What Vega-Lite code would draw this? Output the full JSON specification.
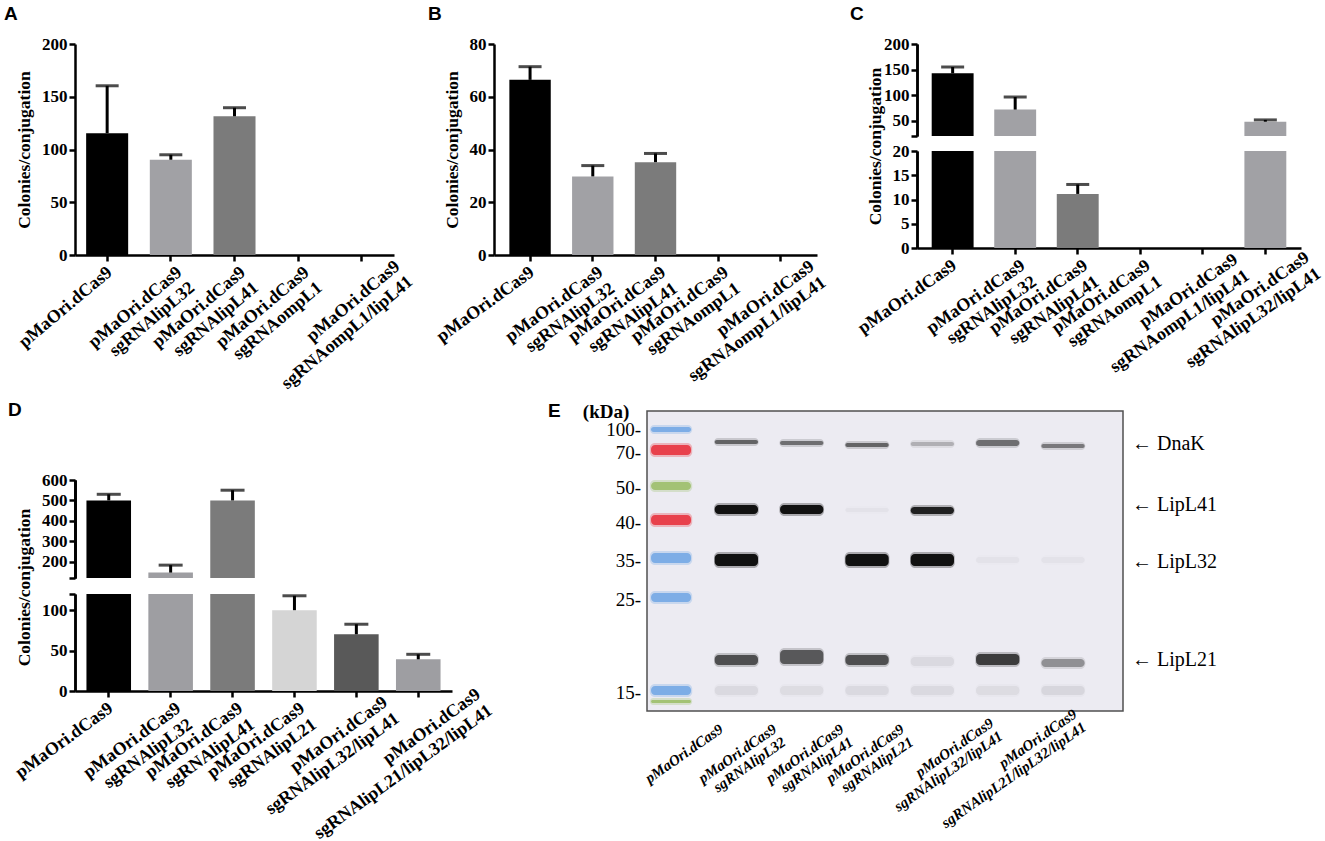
{
  "$schema": "https://vega.github.io/schema/vega-lite/v6.json",
  "padding": {"left": 4, "top": 5, "right": 5, "bottom": 5},
  "background": "white",
  "align": "none",
  "spacing": 8,
  "resolve": {"scale": {"color": "independent", "opacity": "independent"}},
  "config": {
    "font": "Liberation Serif",
    "view": {"stroke": null},
    "axis": {
      "grid": false,
      "domainColor": "black",
      "domainWidth": 2.5,
      "tickColor": "black",
      "tickWidth": 2.5,
      "tickSize": 6,
      "labelFont": "Liberation Serif",
      "labelFontWeight": "bold",
      "labelColor": "black",
      "labelFontSize": 17,
      "labelPadding": 2,
      "labelOverlap": false,
      "labelBound": false,
      "labelLimit": 0,
      "titleFont": "Liberation Serif",
      "titleFontWeight": "bold",
      "titleFontSize": 17.5,
      "titleColor": "black",
      "titlePadding": 8
    },
    "axisX": {
      "labelFontSize": 18,
      "labelAlign": "right",
      "labelBaseline": "top",
      "labelLineHeight": 20,
      "title": null
    },
    "title": {
      "font": "Liberation Sans",
      "fontSize": 19,
      "fontWeight": "bold",
      "color": "black",
      "anchor": "start",
      "frame": "group",
      "baseline": "alphabetic",
      "offset": 11
    }
  },
  "datasets": {
    "panelA": [
      {"sample": "pMaOri.dCas9", "mean": 115.5, "upper": 160.4},
      {"sample": "pMaOri.dCas9 sgRNAlipL32", "mean": 90.3, "upper": 95},
      {"sample": "pMaOri.dCas9 sgRNAlipL41", "mean": 131.5, "upper": 139.6},
      {"sample": "pMaOri.dCas9 sgRNAompL1", "mean": 0, "upper": null},
      {"sample": "pMaOri.dCas9 sgRNAompL1/lipL41", "mean": 0, "upper": null}
    ],
    "panelB": [
      {"sample": "pMaOri.dCas9", "mean": 66.4, "upper": 71.4},
      {"sample": "pMaOri.dCas9 sgRNAlipL32", "mean": 29.8, "upper": 33.9},
      {"sample": "pMaOri.dCas9 sgRNAlipL41", "mean": 35.2, "upper": 38.5},
      {"sample": "pMaOri.dCas9 sgRNAompL1", "mean": 0, "upper": null},
      {"sample": "pMaOri.dCas9 sgRNAompL1/lipL41", "mean": 0, "upper": null}
    ],
    "panelC": [
      {"sample": "pMaOri.dCas9", "mean": 142.6, "upper": 155},
      {"sample": "pMaOri.dCas9 sgRNAlipL32", "mean": 71.7, "upper": 96.3},
      {"sample": "pMaOri.dCas9 sgRNAlipL41", "mean": 11.15, "upper": 13.1},
      {"sample": "pMaOri.dCas9 sgRNAompL1", "mean": 0, "upper": null},
      {"sample": "pMaOri.dCas9 sgRNAompL1/lipL41", "mean": 0, "upper": null},
      {"sample": "pMaOri.dCas9 sgRNAlipL32/lipL41", "mean": 48, "upper": 51.5}
    ],
    "panelD": [
      {"sample": "pMaOri.dCas9", "mean": 500, "upper": 530},
      {"sample": "pMaOri.dCas9 sgRNAlipL32", "mean": 146.5, "upper": 183},
      {"sample": "pMaOri.dCas9 sgRNAlipL41", "mean": 500, "upper": 550},
      {"sample": "pMaOri.dCas9 sgRNAlipL21", "mean": 100, "upper": 117.8},
      {"sample": "pMaOri.dCas9 sgRNAlipL32/lipL41", "mean": 70.2, "upper": 82.6},
      {"sample": "pMaOri.dCas9 sgRNAlipL21/lipL32/lipL41", "mean": 39.2, "upper": 45.4}
    ],
    "blotBands": [
      {"lane": "pMaOri.dCas9", "protein": "DnaK", "from": 29, "to": 33, "intensity": 0.55},
      {"lane": "pMaOri.dCas9 sgRNAlipL32", "protein": "DnaK", "from": 30, "to": 34, "intensity": 0.5},
      {"lane": "pMaOri.dCas9 sgRNAlipL41", "protein": "DnaK", "from": 32, "to": 36, "intensity": 0.55},
      {"lane": "pMaOri.dCas9 sgRNAlipL21", "protein": "DnaK", "from": 31, "to": 35, "intensity": 0.22},
      {"lane": "pMaOri.dCas9 sgRNAlipL32/lipL41", "protein": "DnaK", "from": 29, "to": 35, "intensity": 0.5},
      {"lane": "pMaOri.dCas9 sgRNAlipL21/lipL32/lipL41", "protein": "DnaK", "from": 33, "to": 37, "intensity": 0.45},
      {"lane": "pMaOri.dCas9", "protein": "LipL41", "from": 94, "to": 103, "intensity": 1},
      {"lane": "pMaOri.dCas9 sgRNAlipL32", "protein": "LipL41", "from": 94, "to": 103, "intensity": 1},
      {"lane": "pMaOri.dCas9 sgRNAlipL41", "protein": "LipL41", "from": 97, "to": 101, "intensity": 0.03},
      {"lane": "pMaOri.dCas9 sgRNAlipL21", "protein": "LipL41", "from": 96, "to": 103, "intensity": 0.9},
      {"lane": "pMaOri.dCas9", "protein": "LipL32", "from": 143, "to": 155, "intensity": 1},
      {"lane": "pMaOri.dCas9 sgRNAlipL41", "protein": "LipL32", "from": 143, "to": 155, "intensity": 1},
      {"lane": "pMaOri.dCas9 sgRNAlipL21", "protein": "LipL32", "from": 143, "to": 155, "intensity": 1},
      {"lane": "pMaOri.dCas9 sgRNAlipL32/lipL41", "protein": "LipL32", "from": 146, "to": 152, "intensity": 0.03},
      {"lane": "pMaOri.dCas9 sgRNAlipL21/lipL32/lipL41", "protein": "LipL32", "from": 146, "to": 152, "intensity": 0.03},
      {"lane": "pMaOri.dCas9", "protein": "LipL21", "from": 244, "to": 254, "intensity": 0.65},
      {"lane": "pMaOri.dCas9 sgRNAlipL32", "protein": "LipL21", "from": 239, "to": 253, "intensity": 0.6},
      {"lane": "pMaOri.dCas9 sgRNAlipL41", "protein": "LipL21", "from": 244, "to": 254, "intensity": 0.65},
      {"lane": "pMaOri.dCas9 sgRNAlipL21", "protein": "LipL21", "from": 246, "to": 255, "intensity": 0.06},
      {"lane": "pMaOri.dCas9 sgRNAlipL32/lipL41", "protein": "LipL21", "from": 243, "to": 254, "intensity": 0.75},
      {"lane": "pMaOri.dCas9 sgRNAlipL21/lipL32/lipL41", "protein": "LipL21", "from": 248, "to": 256, "intensity": 0.35},
      {"lane": "pMaOri.dCas9", "protein": "smear", "from": 275, "to": 284, "intensity": 0.06},
      {"lane": "pMaOri.dCas9 sgRNAlipL32", "protein": "smear", "from": 275, "to": 284, "intensity": 0.05},
      {"lane": "pMaOri.dCas9 sgRNAlipL41", "protein": "smear", "from": 275, "to": 284, "intensity": 0.06},
      {"lane": "pMaOri.dCas9 sgRNAlipL21", "protein": "smear", "from": 275, "to": 284, "intensity": 0.06},
      {"lane": "pMaOri.dCas9 sgRNAlipL32/lipL41", "protein": "smear", "from": 275, "to": 284, "intensity": 0.05},
      {"lane": "pMaOri.dCas9 sgRNAlipL21/lipL32/lipL41", "protein": "smear", "from": 275, "to": 284, "intensity": 0.07}
    ],
    "ladder": [
      {"lane": "Marker", "kda": 100, "from": 16, "to": 21, "dye": "blue"},
      {"lane": "Marker", "kda": 70, "from": 34, "to": 44, "dye": "red"},
      {"lane": "Marker", "kda": 50, "from": 71, "to": 79, "dye": "green"},
      {"lane": "Marker", "kda": 40, "from": 104, "to": 114, "dye": "red"},
      {"lane": "Marker", "kda": 35, "from": 142, "to": 152, "dye": "blue"},
      {"lane": "Marker", "kda": 25, "from": 182, "to": 191, "dye": "blue"},
      {"lane": "Marker", "kda": 15, "from": 275, "to": 284, "dye": "blue"},
      {"lane": "Marker", "kda": null, "from": 289, "to": 292, "dye": "green"}
    ],
    "targets": [
      {"protein": "DnaK", "mig": 33},
      {"protein": "LipL41", "mig": 94},
      {"protein": "LipL32", "mig": 151},
      {"protein": "LipL21", "mig": 249}
    ]
  },
  "vconcat": [
    {
      "bounds": "flush",
      "align": "none",
      "spacing": 100,
      "resolve": {"scale": {"color": "independent"}},
      "hconcat": [
        {
          "width": 319,
          "height": 211,
          "title": {"text": "A", "dx": -71},
          "data": {"name": "panelA"},
          "encoding": {
            "x": {
              "field": "sample", "type": "nominal", "sort": null,
              "scale": {"paddingInner": 0.34, "paddingOuter": 0.175},
              "axis": {
                "labelAngle": -40,
                "labelOffset": {"condition": [
                  {"test": "indexof(datum.value, ' ') < 0", "value": -3},
                  {"test": "datum.value == 'pMaOri.dCas9 sgRNAompL1/lipL41'", "value": 30}
                ], "value": 3},
                "labelPadding": {"condition": {"test": "datum.value == 'pMaOri.dCas9 sgRNAompL1/lipL41'", "value": -4}, "value": 2},
                "labelExpr": "indexof(datum.label, ' ') < 0 ? datum.label : [pad(split(datum.label, ' ')[0], length(split(datum.label, ' ')[1]), '\u00a0'), pad(split(datum.label, ' ')[1], length(split(datum.label, ' ')[0]), '\u00a0')]"
              }
            }
          },
          "layer": [
            {
              "mark": {"type": "bar"},
              "encoding": {
                "y": {"field": "mean", "type": "quantitative", "scale": {"domain": [0, 200]},
                      "axis": {"values": [0, 50, 100, 150, 200], "title": "Colonies/conjugation"}},
                "color": {"field": "sample", "type": "nominal", "legend": null,
                          "scale": {"domain": ["pMaOri.dCas9", "pMaOri.dCas9 sgRNAlipL32", "pMaOri.dCas9 sgRNAlipL41", "pMaOri.dCas9 sgRNAompL1", "pMaOri.dCas9 sgRNAompL1/lipL41"],
                                    "range": ["#000000", "#a1a1a5", "#7b7b7b", "#000000", "#000000"]}}
              }
            },
            {
              "transform": [{"filter": "datum.upper != null"}],
              "mark": {"type": "rule", "color": "black", "strokeWidth": 3},
              "encoding": {"y": {"field": "mean", "type": "quantitative"}, "y2": {"field": "upper"}}
            },
            {
              "transform": [{"filter": "datum.upper != null"}],
              "mark": {"type": "tick", "color": "black", "thickness": 3, "size": 23},
              "encoding": {"y": {"field": "upper", "type": "quantitative"}}
            }
          ]
        },
        {
          "width": 323,
          "height": 211,
          "title": {"text": "B", "dx": -66},
          "data": {"name": "panelB"},
          "encoding": {
            "x": {
              "field": "sample", "type": "nominal", "sort": null,
              "scale": {"paddingInner": 0.34, "paddingOuter": 0.245},
              "axis": {
                "labelAngle": -36,
                "labelOffset": {"condition": [
                  {"test": "indexof(datum.value, ' ') < 0", "value": -3},
                  {"test": "datum.value == 'pMaOri.dCas9 sgRNAompL1/lipL41'", "value": 26}
                ], "value": 3},
                "labelPadding": {"condition": {"test": "datum.value == 'pMaOri.dCas9 sgRNAompL1/lipL41'", "value": -4}, "value": 2},
                "labelExpr": "indexof(datum.label, ' ') < 0 ? datum.label : [pad(split(datum.label, ' ')[0], length(split(datum.label, ' ')[1]), '\u00a0'), pad(split(datum.label, ' ')[1], length(split(datum.label, ' ')[0]), '\u00a0')]"
              }
            }
          },
          "layer": [
            {
              "mark": {"type": "bar"},
              "encoding": {
                "y": {"field": "mean", "type": "quantitative", "scale": {"domain": [0, 80]},
                      "axis": {"values": [0, 20, 40, 60, 80], "title": "Colonies/conjugation"}},
                "color": {"field": "sample", "type": "nominal", "legend": null,
                          "scale": {"domain": ["pMaOri.dCas9", "pMaOri.dCas9 sgRNAlipL32", "pMaOri.dCas9 sgRNAlipL41", "pMaOri.dCas9 sgRNAompL1", "pMaOri.dCas9 sgRNAompL1/lipL41"],
                                    "range": ["#000000", "#a1a1a5", "#7b7b7b", "#000000", "#000000"]}}
              }
            },
            {
              "transform": [{"filter": "datum.upper != null"}],
              "mark": {"type": "rule", "color": "black", "strokeWidth": 3},
              "encoding": {"y": {"field": "mean", "type": "quantitative"}, "y2": {"field": "upper"}}
            },
            {
              "transform": [{"filter": "datum.upper != null"}],
              "mark": {"type": "tick", "color": "black", "thickness": 3, "size": 23},
              "encoding": {"y": {"field": "upper", "type": "quantitative"}}
            }
          ]
        },
        {
          "bounds": "flush",
          "align": "none",
          "spacing": 15,
          "vconcat": [
            {
              "width": 384,
              "height": 92,
              "title": {"text": "C", "dx": -67},
              "data": {"name": "panelC"},
              "encoding": {
                "x": {"field": "sample", "type": "nominal", "sort": null,
                      "scale": {"paddingInner": 0.33, "paddingOuter": 0.235}, "axis": null}
              },
              "resolve": {"axis": {"y": "independent"}},
              "layer": [
                {
                  "mark": {"type": "bar", "clip": true},
                  "encoding": {
                    "y": {"field": "mean", "type": "quantitative",
                          "scale": {"domain": [20, 200], "zero": false, "nice": false},
                          "axis": {"orient": "left", "values": [20, 100, 200], "title": null,
                                   "labelExpr": "datum.value == 20 ? '' : datum.label"}},
                    "color": {"field": "sample", "type": "nominal", "legend": null,
                              "scale": {"domain": ["pMaOri.dCas9", "pMaOri.dCas9 sgRNAlipL32", "pMaOri.dCas9 sgRNAlipL41", "pMaOri.dCas9 sgRNAompL1", "pMaOri.dCas9 sgRNAompL1/lipL41", "pMaOri.dCas9 sgRNAlipL32/lipL41"],
                                        "range": ["#000000", "#a1a1a5", "#7b7b7b", "#000000", "#000000", "#a1a1a5"]}}
                  }
                },
                {
                  "transform": [{"filter": "datum.upper != null && datum.upper > 20"}],
                  "mark": {"type": "rule", "color": "black", "strokeWidth": 3},
                  "encoding": {"y": {"field": "mean", "type": "quantitative", "axis": null}, "y2": {"field": "upper"}}
                },
                {
                  "transform": [{"filter": "datum.upper != null && datum.upper > 20"}],
                  "mark": {"type": "tick", "color": "black", "thickness": 3, "size": 23},
                  "encoding": {"y": {"field": "upper", "type": "quantitative",
                                     "axis": {"orient": "left", "values": [50, 150], "title": null}}}
                }
              ]
            },
            {
              "width": 384,
              "height": 97,
              "data": {"name": "panelC"},
              "encoding": {
                "x": {"field": "sample", "type": "nominal", "sort": null,
                      "scale": {"paddingInner": 0.33, "paddingOuter": 0.235},
                      "axis": {
                        "labelAngle": -35,
                        "labelOffset": {"condition": [
                          {"test": "indexof(datum.value, ' ') < 0", "value": -3},
                          {"test": "datum.value == 'pMaOri.dCas9 sgRNAompL1/lipL41'", "value": 28},
                          {"test": "datum.value == 'pMaOri.dCas9 sgRNAlipL32/lipL41'", "value": 37}
                        ], "value": 3},
                        "labelPadding": {"condition": [
                          {"test": "datum.value == 'pMaOri.dCas9 sgRNAompL1/lipL41'", "value": -4},
                          {"test": "datum.value == 'pMaOri.dCas9 sgRNAlipL32/lipL41'", "value": -6}
                        ], "value": 2},
                        "labelExpr": "indexof(datum.label, ' ') < 0 ? datum.label : [pad(split(datum.label, ' ')[0], length(split(datum.label, ' ')[1]), '\u00a0'), pad(split(datum.label, ' ')[1], length(split(datum.label, ' ')[0]), '\u00a0')]"
                      }}
              },
              "resolve": {"axis": {"y": "independent"}},
              "layer": [
                {
                  "mark": {"type": "bar", "clip": true},
                  "encoding": {
                    "y": {"field": "mean", "type": "quantitative",
                          "scale": {"domain": [0, 20], "nice": false},
                          "axis": {"orient": "left", "values": [0, 10, 20], "title": "Colonies/conjugation", "titleY": -5}},
                    "color": {"field": "sample", "type": "nominal", "legend": null,
                              "scale": {"domain": ["pMaOri.dCas9", "pMaOri.dCas9 sgRNAlipL32", "pMaOri.dCas9 sgRNAlipL41", "pMaOri.dCas9 sgRNAompL1", "pMaOri.dCas9 sgRNAompL1/lipL41", "pMaOri.dCas9 sgRNAlipL32/lipL41"],
                                        "range": ["#000000", "#a1a1a5", "#7b7b7b", "#000000", "#000000", "#a1a1a5"]}}
                  }
                },
                {
                  "transform": [{"filter": "datum.upper != null && datum.upper <= 20"}],
                  "mark": {"type": "rule", "color": "black", "strokeWidth": 3},
                  "encoding": {"y": {"field": "mean", "type": "quantitative", "axis": null}, "y2": {"field": "upper"}}
                },
                {
                  "transform": [{"filter": "datum.upper != null && datum.upper <= 20"}],
                  "mark": {"type": "tick", "color": "black", "thickness": 3, "size": 23},
                  "encoding": {"y": {"field": "upper", "type": "quantitative",
                                     "axis": {"orient": "left", "values": [5, 15], "title": null}}}
                }
              ]
            }
          ]
        }
      ]
    },
    {
      "bounds": "flush",
      "align": "none",
      "spacing": 572,
      "resolve": {"scale": {"color": "independent", "opacity": "independent"}},
      "hconcat": [
        {
          "bounds": "flush",
          "align": "none",
          "spacing": 16,
          "vconcat": [
            {
              "width": 377,
              "height": 53,
              "title": {"text": "D", "dx": -67, "offset": 0, "dy": 9},
              "data": {"values": []},
              "mark": {"type": "point", "opacity": 0},
              "encoding": {}
            },
            {
              "width": 377,
              "height": 98,
              "data": {"name": "panelD"},
              "encoding": {
                "x": {"field": "sample", "type": "nominal", "sort": null,
                      "scale": {"paddingInner": 0.28, "paddingOuter": 0.185}, "axis": null}
              },
              "resolve": {"axis": {"y": "independent"}},
              "layer": [
                {
                  "mark": {"type": "bar", "clip": true},
                  "encoding": {
                    "y": {"field": "mean", "type": "quantitative",
                          "scale": {"domain": [120, 600], "zero": false, "nice": false},
                          "axis": {"orient": "left", "values": [120, 200, 500], "title": null,
                                   "labelExpr": "datum.value == 120 ? '' : datum.label"}},
                    "color": {"field": "sample", "type": "nominal", "legend": null,
                              "scale": {"domain": ["pMaOri.dCas9", "pMaOri.dCas9 sgRNAlipL32", "pMaOri.dCas9 sgRNAlipL41", "pMaOri.dCas9 sgRNAlipL21", "pMaOri.dCas9 sgRNAlipL32/lipL41", "pMaOri.dCas9 sgRNAlipL21/lipL32/lipL41"],
                                        "range": ["#000000", "#9e9ea2", "#7b7b7b", "#d5d5d5", "#595959", "#9e9ea2"]}}
                  }
                },
                {
                  "transform": [{"filter": "datum.upper != null && datum.upper > 120"}],
                  "mark": {"type": "rule", "color": "black", "strokeWidth": 3},
                  "encoding": {"y": {"field": "mean", "type": "quantitative",
                                     "axis": {"orient": "left", "values": [400], "title": null}}, "y2": {"field": "upper"}}
                },
                {
                  "transform": [{"filter": "datum.upper != null && datum.upper > 120"}],
                  "mark": {"type": "tick", "color": "black", "thickness": 3, "size": 24},
                  "encoding": {"y": {"field": "upper", "type": "quantitative",
                                     "axis": {"orient": "left", "values": [300, 600], "title": null}}}
                }
              ]
            },
            {
              "width": 377,
              "height": 97,
              "data": {"name": "panelD"},
              "encoding": {
                "x": {"field": "sample", "type": "nominal", "sort": null,
                      "scale": {"paddingInner": 0.28, "paddingOuter": 0.185},
                      "axis": {
                        "labelAngle": -36,
                        "labelOffset": {"condition": [
                          {"test": "indexof(datum.value, ' ') < 0", "value": -3},
                          {"test": "datum.value == 'pMaOri.dCas9 sgRNAlipL32/lipL41'", "value": 24},
                          {"test": "datum.value == 'pMaOri.dCas9 sgRNAlipL21/lipL32/lipL41'", "value": 55}
                        ], "value": 3},
                        "labelPadding": {"condition": [
                          {"test": "datum.value == 'pMaOri.dCas9 sgRNAlipL32/lipL41'", "value": -4},
                          {"test": "datum.value == 'pMaOri.dCas9 sgRNAlipL21/lipL32/lipL41'", "value": -12}
                        ], "value": 2},
                        "labelExpr": "indexof(datum.label, ' ') < 0 ? datum.label : [pad(split(datum.label, ' ')[0], length(split(datum.label, ' ')[1]), '\u00a0'), pad(split(datum.label, ' ')[1], length(split(datum.label, ' ')[0]), '\u00a0')]"
                      }}
              },
              "resolve": {"axis": {"y": "independent"}},
              "layer": [
                {
                  "mark": {"type": "bar", "clip": true},
                  "encoding": {
                    "y": {"field": "mean", "type": "quantitative",
                          "scale": {"domain": [0, 120], "nice": false},
                          "axis": {"orient": "left", "values": [0, 100], "title": "Colonies/conjugation", "titleY": -7}},
                    "color": {"field": "sample", "type": "nominal", "legend": null,
                              "scale": {"domain": ["pMaOri.dCas9", "pMaOri.dCas9 sgRNAlipL32", "pMaOri.dCas9 sgRNAlipL41", "pMaOri.dCas9 sgRNAlipL21", "pMaOri.dCas9 sgRNAlipL32/lipL41", "pMaOri.dCas9 sgRNAlipL21/lipL32/lipL41"],
                                        "range": ["#000000", "#9e9ea2", "#7b7b7b", "#d5d5d5", "#595959", "#9e9ea2"]}}
                  }
                },
                {
                  "transform": [{"filter": "datum.upper != null && datum.upper <= 120"}],
                  "mark": {"type": "rule", "color": "black", "strokeWidth": 3},
                  "encoding": {"y": {"field": "mean", "type": "quantitative", "axis": null}, "y2": {"field": "upper"}}
                },
                {
                  "transform": [{"filter": "datum.upper != null && datum.upper <= 120"}],
                  "mark": {"type": "tick", "color": "black", "thickness": 3, "size": 24},
                  "encoding": {"y": {"field": "upper", "type": "quantitative",
                                     "axis": {"orient": "left", "values": [50, 120], "title": null,
                                              "labelExpr": "datum.value == 120 ? '' : datum.label"}}}
                }
              ]
            }
          ]
        },
        {
          "width": 476,
          "height": 300,
          "title": {"text": "E", "dx": -99, "offset": 0, "dy": 18},
          "view": {"fill": "#ecebf2", "stroke": "#505050", "strokeWidth": 1.5},
          "resolve": {"scale": {"opacity": "independent"}},
          "layer": [
            {
              "data": {"name": "blotBands"},
              "mark": {"type": "bar", "width": {"band": 0.95}, "cornerRadius": 5, "color": "#111111", "yOffset": -2, "y2Offset": 2},
              "encoding": {
                "x": {"field": "lane", "type": "nominal", "sort": null,
                      "scale": {"domain": ["Marker", "pMaOri.dCas9", "pMaOri.dCas9 sgRNAlipL32", "pMaOri.dCas9 sgRNAlipL41", "pMaOri.dCas9 sgRNAlipL21", "pMaOri.dCas9 sgRNAlipL32/lipL41", "pMaOri.dCas9 sgRNAlipL21/lipL32/lipL41"],
                                "paddingInner": 0.28, "paddingOuter": 0.283, "align": 0.014},
                      "axis": {"domain": false, "ticks": false, "labelAngle": -35, "labelFontStyle": "italic",
                               "labelFontSize": 15, "labelLineHeight": 16,
                               "labelPadding": {"condition": [
                                 {"test": "datum.value == 'pMaOri.dCas9 sgRNAlipL32/lipL41'", "value": 4},
                                 {"test": "datum.value == 'pMaOri.dCas9 sgRNAlipL21/lipL32/lipL41'", "value": -5}
                               ], "value": 10},
                               "labelOffset": {"condition": [
                                 {"test": "indexof(datum.value, ' ') < 0", "value": -19},
                                 {"test": "datum.value == 'pMaOri.dCas9 sgRNAlipL32'", "value": -31},
                                 {"test": "datum.value == 'pMaOri.dCas9 sgRNAlipL41'", "value": -29},
                                 {"test": "datum.value == 'pMaOri.dCas9 sgRNAlipL21'", "value": -34},
                                 {"test": "datum.value == 'pMaOri.dCas9 sgRNAlipL32/lipL41'", "value": -10},
                                 {"test": "datum.value == 'pMaOri.dCas9 sgRNAlipL21/lipL32/lipL41'", "value": 8}
                               ], "value": -30},
                               "labelExpr": "datum.label == 'Marker' ? '' : indexof(datum.label, ' ') < 0 ? datum.label : [pad(split(datum.label, ' ')[0], length(split(datum.label, ' ')[1]), '\u00a0'), pad(split(datum.label, ' ')[1], length(split(datum.label, ' ')[0]), '\u00a0')]"}},
                "y": {"field": "from", "type": "quantitative", "scale": {"domain": [0, 300], "reverse": true, "nice": false}, "axis": null},
                "y2": {"field": "to"},
                "opacity": {"field": "intensity", "type": "quantitative", "scale": {"domain": [0, 1], "range": [0, 0.3]}, "legend": null}
              }
            },
            {
              "data": {"name": "blotBands"},
              "mark": {"type": "bar", "width": {"band": 0.92}, "cornerRadius": 4, "color": "#111111"},
              "encoding": {
                "x": {"field": "lane", "type": "nominal", "sort": null},
                "y": {"field": "from", "type": "quantitative"},
                "y2": {"field": "to"},
                "opacity": {"field": "intensity", "type": "quantitative", "scale": {"domain": [0, 1], "range": [0, 1]}, "legend": null}
              }
            },
            {
              "data": {"name": "ladder"},
              "mark": {"type": "bar", "width": {"band": 0.9}, "cornerRadius": 5, "opacity": 0.3, "yOffset": -2, "y2Offset": 2},
              "encoding": {
                "x": {"field": "lane", "type": "nominal", "sort": null},
                "y": {"field": "from", "type": "quantitative"},
                "y2": {"field": "to"},
                "color": {"field": "dye", "type": "nominal", "legend": null,
                          "scale": {"domain": ["blue", "red", "green"], "range": ["#74a9e4", "#e8343f", "#9dbf6c"]}}
              }
            },
            {
              "data": {"name": "ladder"},
              "mark": {"type": "bar", "width": {"band": 0.85}, "cornerRadius": 4, "opacity": 0.9},
              "encoding": {
                "x": {"field": "lane", "type": "nominal", "sort": null},
                "y": {"field": "from", "type": "quantitative"},
                "y2": {"field": "to"},
                "color": {"field": "dye", "type": "nominal", "legend": null}
              }
            },
            {
              "data": {"name": "ladder"},
              "transform": [{"filter": "datum.kda != null"}],
              "mark": {"type": "text", "align": "right", "baseline": "middle", "dx": -30, "dy": -2,
                       "font": "Liberation Serif", "fontSize": 19, "color": "black",
                       "text": {"expr": "datum.kda + '-'"}},
              "encoding": {
                "x": {"field": "lane", "type": "nominal", "sort": null},
                "y": {"field": "to", "type": "quantitative"}
              }
            },
            {
              "data": {"values": [{"unit": "(kDa)"}]},
              "mark": {"type": "text", "align": "center", "baseline": "middle", "dx": -65,
                       "font": "Liberation Serif", "fontSize": 19, "fontWeight": "bold", "color": "black"},
              "encoding": {
                "x": {"datum": "Marker", "type": "nominal"},
                "y": {"datum": 1, "type": "quantitative"},
                "text": {"field": "unit"}
              }
            },
            {
              "data": {"name": "targets"},
              "mark": {"type": "text", "align": "left", "baseline": "middle", "dx": 69,
                       "font": "Liberation Serif", "fontSize": 20, "color": "black",
                       "text": {"expr": "'← ' + datum.protein"}},
              "encoding": {
                "x": {"datum": "pMaOri.dCas9 sgRNAlipL21/lipL32/lipL41", "type": "nominal"},
                "y": {"field": "mig", "type": "quantitative"}
              }
            }
          ]
        }
      ]
    }
  ]
}
